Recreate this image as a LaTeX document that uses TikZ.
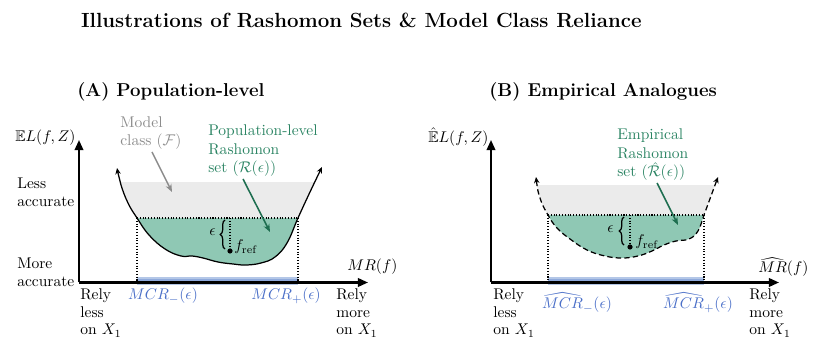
\documentclass[tikz,border=0pt]{standalone}
\usepackage{amsmath,amssymb}
\usetikzlibrary{arrows.meta,decorations.pathreplacing}
\definecolor{gtext}{HTML}{2B8463}
\definecolor{garrow}{HTML}{1E6E50}
\definecolor{gfill}{HTML}{8FC8B4}
\definecolor{grayfill}{HTML}{EBEBEB}
\definecolor{graytext}{HTML}{8C8C8C}
\definecolor{bluetext}{HTML}{4A6FC8}
\definecolor{blueband}{HTML}{B4C7E7}
\definecolor{blueline}{HTML}{8EA9DB}
\begin{document}
\begin{tikzpicture}[x=0.644pt,y=-0.644pt,
  txt/.style={inner sep=0pt, font=\fontsize{10}{12.2}\selectfont, align=left, anchor=base west},
  relytxt/.style={txt, font=\fontsize{10}{11.3}\selectfont},
  axisline/.style={line width=1.3pt, -{Triangle[length=6.5pt,width=5.5pt]}},
  lossA/.style={line width=0.8pt, {Stealth[length=4pt,width=3.5pt]}-{Stealth[length=4pt,width=3.5pt]}},
  lossB/.style={lossA, dash pattern=on 3.5pt off 2pt},
  thr/.style={line width=0.7pt, dash pattern=on 0.7pt off 1.1pt},
  ptr/.style={line width=1pt, -{Stealth[length=5pt,width=4pt]}},
  brc/.style={decorate, decoration={brace, amplitude=3pt}, line width=0.8pt},
  band/.style={fill=blueband},
]
\useasboundingbox (0,0) rectangle (830,342);

% ---------- titles
\node[anchor=base west, inner sep=0pt, font=\bfseries\fontsize{13.2}{16}\selectfont] (title) at (80.7,28) {Illustrations of Rashomon Sets \& Model Class Reliance};
\node[anchor=base west, inner sep=0pt, font=\bfseries\fontsize{12}{14}\selectfont] (titleA) at (77,97) {(A) Population-level};
\node[anchor=base west, inner sep=0pt, font=\bfseries\fontsize{12}{14}\selectfont] (titleB) at (489,97) {(B) Empirical Analogues};

% ---------- Panel A fills
\def\curveA{plot[smooth,tension=0.7] coordinates {(117,168) (121,185) (128,203) (137,218) (149,235) (165,249) (181,256) (192,256) (203,258) (218,262) (233,264) (246,265) (261,263) (275,257) (287,243) (298,218) (310,192) (322,167)}}
\begin{scope}
  \clip \curveA -- (322,100) -- (117,100) -- cycle;
  \fill[grayfill] (100,182) rectangle (340,218);
  \fill[gfill] (100,218) rectangle (340,300);
\end{scope}
\fill[band] (137,277) rectangle (298,285);
\draw[blueline, line width=1.3pt] (137,280.5) -- (298,280.5);
\coordinate (thrAL) at (137,218);
\coordinate (thrAR) at (298,218);
\coordinate (axAL) at (137,282.5);
\coordinate (axAR) at (298,282.5);
\draw[thr] (thrAL) -- (axAL);
\draw[thr] (thrAR) -- (axAR);
\draw[thr] (thrAL) -- (thrAR);
\coordinate (oA) at (79,282.5);
\coordinate (yA) at (79,140);
\coordinate (xA) at (368,282.5);
\draw[axisline] (oA) -- (yA);
\draw[axisline] (oA) -- (xA);
\draw[lossA] \curveA;
\coordinate (fA) at (230,251);
\coordinate (fAtop) at (230,218);
\draw[thr] (fAtop) -- (fA);
\fill (fA) circle (2.6);
\draw[brc] (225,249) -- (225,220);
\node[anchor=east, inner sep=0pt] (epsA) at (216,232) {$\epsilon$};
\node[anchor=base west, inner sep=0pt] (frefA) at (234,251) {$f_{\mathrm{ref}}$};

% Panel A labels (base anchor = last line)
\node[txt] (yAlab) at (15,142) {$\mathbb{E}L(f,Z)$};
\node[txt] (lessA) at (17,207) {Less\\accurate};
\node[txt] (moreA) at (17,287) {More\\accurate};
\node[txt] (xAlab) at (347,271) {$MR(f)$};
\node[relytxt] (rlA) at (80,335) {Rely\\less\\on $X_1$};
\node[relytxt] (rmA) at (336,335) {Rely\\more\\on $X_1$};
\node[anchor=base, inner sep=0pt, text=bluetext] (mcrmA) at (163,300) {$MCR_-(\epsilon)$};
\node[anchor=base, inner sep=0pt, text=bluetext] (mcrpA) at (286,300) {$MCR_+(\epsilon)$};
\node[txt, text=graytext] (modelA) at (120,146) {Model\\class ($\mathcal{F}$)};
\node[txt, text=gtext] (rsA) at (208,173) {Population-level\\Rashomon\\set ($\mathcal{R}(\epsilon)$)};
\coordinate (gpS) at (152,152);
\coordinate (gpE) at (172,192);
\draw[ptr, graytext] (gpS) -- (gpE);
\coordinate (grS) at (243,179);
\coordinate (grE) at (270,232);
\draw[ptr, garrow] (grS) -- (grE);

% ---------- Panel B
\def\curveB{plot[smooth,tension=0.7] coordinates {(536,177) (540,198) (548,215) (557,228) (570,239) (587,250) (605,256) (622,258) (638,256) (652,251) (664,245) (676,241) (689,239) (698,231) (704,215) (711,196) (718,177)}}
\begin{scope}
  \clip \curveB -- (718,100) -- (536,100) -- cycle;
  \fill[grayfill] (520,185) rectangle (730,215);
  \fill[gfill] (520,215) rectangle (730,300);
\end{scope}
\fill[band] (548,277) rectangle (704,285);
\draw[blueline, line width=1.3pt] (548,280.5) -- (704,280.5);
\coordinate (thrBL) at (548,215);
\coordinate (thrBR) at (704,215);
\coordinate (axBL) at (548,282.5);
\coordinate (axBR) at (704,282.5);
\draw[thr] (thrBL) -- (axBL);
\draw[thr] (thrBR) -- (axBR);
\draw[thr] (thrBL) -- (thrBR);
\coordinate (oB) at (491,282.5);
\coordinate (yB) at (491,140);
\coordinate (xB) at (779,282.5);
\draw[axisline] (oB) -- (yB);
\draw[axisline] (oB) -- (xB);
\draw[lossB] \curveB;
\coordinate (fB) at (630,247);
\coordinate (fBtop) at (630,215);
\draw[thr] (fBtop) -- (fB);
\fill (fB) circle (2.6);
\draw[brc] (624,245) -- (624,217);
\node[anchor=east, inner sep=0pt] (epsB) at (614,229) {$\epsilon$};
\node[anchor=base west, inner sep=0pt] (frefB) at (635,246) {$f_{\mathrm{ref}}$};

\node[txt] (yBlab) at (428,143) {$\hat{\mathbb{E}}L(f,Z)$};
\node[txt] (xBlab) at (758,273) {$\widehat{MR}(f)$};
\node[relytxt] (rlB) at (493,335) {Rely\\less\\on $X_1$};
\node[relytxt] (rmB) at (749,335) {Rely\\more\\on $X_1$};
\node[anchor=base, inner sep=0pt, text=bluetext] (mcrmB) at (577,309) {$\widehat{MCR}_-(\epsilon)$};
\node[anchor=base, inner sep=0pt, text=bluetext] (mcrpB) at (698,309) {$\widehat{MCR}_+(\epsilon)$};
\node[txt, text=gtext] (rsB) at (617,177) {Empirical\\Rashomon\\set ($\hat{\mathcal{R}}(\epsilon)$)};
\coordinate (grBS) at (657,183);
\coordinate (grBE) at (678,225);
\draw[ptr, garrow] (grBS) -- (grBE);
\end{tikzpicture}
\end{document}
